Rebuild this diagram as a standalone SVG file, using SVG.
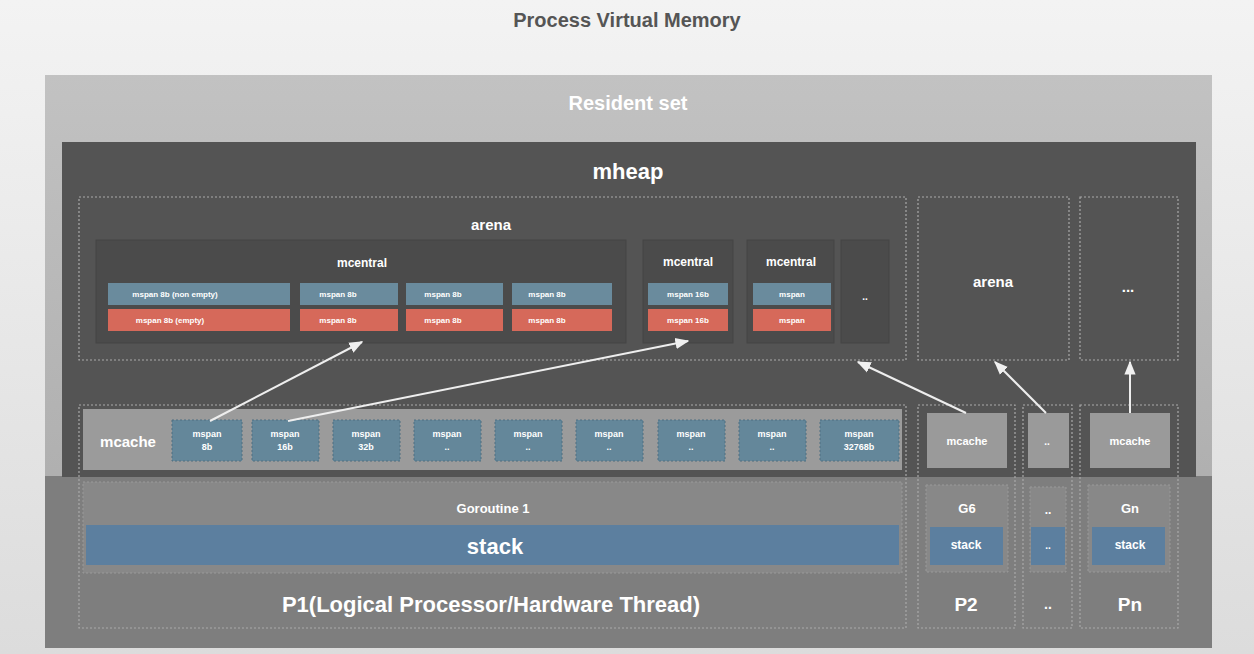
<svg xmlns="http://www.w3.org/2000/svg" width="1254" height="654" viewBox="0 0 1254 654">
<defs>
<linearGradient id="bg" x1="0" y1="0" x2="0" y2="1"><stop offset="0" stop-color="#f3f3f3"/><stop offset="1" stop-color="#dcdcdc"/></linearGradient>
<linearGradient id="rs" x1="0" y1="0" x2="0" y2="1"><stop offset="0" stop-color="#c2c2c2"/><stop offset="1" stop-color="#a8a8a8"/></linearGradient>
<marker id="ah" viewBox="0 0 10 10" refX="9" refY="5" markerWidth="7" markerHeight="7" orient="auto-start-reverse"><path d="M0,1 L10,5 L0,9 z" fill="#f0f0f0"/></marker>
</defs>
<style>
text{font-family:"Liberation Sans",Arial,sans-serif;font-weight:bold;fill:#fff;text-anchor:middle;dominant-baseline:central}
.dash{fill:none;stroke:#a9a9a9;stroke-width:1.2;stroke-dasharray:2 2}
.blue{fill:#6a8b9d}
.red{fill:#d6695a}
.cell{font-size:8px}
.ms{fill:#64879a;stroke:#4f6e80;stroke-width:1;stroke-dasharray:2 2}
.msT{font-size:9px}
.mc{fill:#9a9a9a}
.conn{stroke:#eeeeee;stroke-width:2;fill:none;marker-end:url(#ah)}
</style>
<rect width="1254" height="654" fill="url(#bg)"/>
<text x="627" y="20" font-size="20" style="fill:#555">Process Virtual Memory</text>

<g id="resident-set">
<rect x="45" y="75" width="1167" height="573" fill="url(#rs)"/>
<rect x="45" y="476" width="1167" height="172" fill="#7e7e7e"/>
<text x="628" y="103" font-size="20">Resident set</text>
</g>

<g id="mheap">
<rect x="62" y="142" width="1134" height="335" fill="#545454"/>
<text x="628" y="171" font-size="22">mheap</text>
</g>

<g id="arena1">
<rect class="dash" x="79" y="197" width="827" height="163"/>
<text x="491" y="224" font-size="15">arena</text>
</g>

<g id="mcentral1">
<rect x="96" y="240" width="530" height="103" fill="#4b4b4b" stroke="#444"/>
<text x="362" y="263" font-size="12">mcentral</text>
<rect class="blue" x="108" y="283" width="182" height="22"/>
<rect class="red" x="108" y="309" width="182" height="22"/>
<text class="cell" x="175" y="294">mspan 8b (non empty)</text>
<text class="cell" x="170" y="320">mspan 8b (empty)</text>
<rect class="blue" x="300" y="283" width="98" height="22"/>
<rect class="red" x="300" y="309" width="98" height="22"/>
<text class="cell" x="338" y="294">mspan 8b</text>
<text class="cell" x="338" y="320">mspan 8b</text>
<rect class="blue" x="406" y="283" width="97" height="22"/>
<rect class="red" x="406" y="309" width="97" height="22"/>
<text class="cell" x="443" y="294">mspan 8b</text>
<text class="cell" x="443" y="320">mspan 8b</text>
<rect class="blue" x="512" y="283" width="100" height="22"/>
<rect class="red" x="512" y="309" width="100" height="22"/>
<text class="cell" x="547" y="294">mspan 8b</text>
<text class="cell" x="547" y="320">mspan 8b</text>
</g>

<g id="mcentral2">
<rect x="643" y="240" width="90" height="103" fill="#4b4b4b" stroke="#444"/>
<text x="688" y="262" font-size="12">mcentral</text>
<rect class="blue" x="648" y="283" width="80" height="22"/>
<rect class="red" x="648" y="309" width="80" height="22"/>
<text class="cell" x="688" y="294" font-size="6">mspan 16b</text>
<text class="cell" x="688" y="320" font-size="6">mspan 16b</text>
</g>

<g id="mcentral3">
<rect x="747" y="240" width="87" height="103" fill="#4b4b4b" stroke="#444"/>
<text x="791" y="262" font-size="12">mcentral</text>
<rect class="blue" x="753" y="283" width="78" height="22"/>
<rect class="red" x="753" y="309" width="78" height="22"/>
<text class="cell" x="792" y="294" font-size="6">mspan</text>
<text class="cell" x="792" y="320" font-size="6">mspan</text>
</g>

<g id="mcentral-more">
<rect x="841" y="240" width="48" height="103" fill="#4b4b4b" stroke="#444"/>
<text x="865" y="296" font-size="10">..</text>
</g>

<g id="arena2">
<rect class="dash" x="918" y="197" width="151" height="163"/>
<text x="993" y="281" font-size="15">arena</text>
</g>

<g id="arena-more">
<rect class="dash" x="1080" y="197" width="98" height="163"/>
<text x="1128" y="286" font-size="15">...</text>
</g>

<g id="p1">
<rect class="dash" x="79" y="405" width="827" height="223"/>
<text x="491" y="604" font-size="22">P1(Logical Processor/Hardware Thread)</text>
</g>

<g id="mcache1">
<rect x="83" y="409" width="819" height="61" fill="#9b9b9b"/>
<text x="128" y="441" font-size="15">mcache</text>
<rect class="ms" x="172" y="420" width="70" height="41"/><text class="msT" x="207" y="434">mspan</text><text class="msT" x="207" y="447">8b</text>
<rect class="ms" x="252" y="420" width="67" height="41"/><text class="msT" x="285" y="434">mspan</text><text class="msT" x="285" y="447">16b</text>
<rect class="ms" x="333" y="420" width="67" height="41"/><text class="msT" x="366" y="434">mspan</text><text class="msT" x="366" y="447">32b</text>
<rect class="ms" x="414" y="420" width="67" height="41"/><text class="msT" x="447" y="434">mspan</text><text class="msT" x="447" y="447">..</text>
<rect class="ms" x="495" y="420" width="67" height="41"/><text class="msT" x="528" y="434">mspan</text><text class="msT" x="528" y="447">..</text>
<rect class="ms" x="576" y="420" width="67" height="41"/><text class="msT" x="609" y="434">mspan</text><text class="msT" x="609" y="447">..</text>
<rect class="ms" x="658" y="420" width="67" height="41"/><text class="msT" x="691" y="434">mspan</text><text class="msT" x="691" y="447">..</text>
<rect class="ms" x="739" y="420" width="67" height="41"/><text class="msT" x="772" y="434">mspan</text><text class="msT" x="772" y="447">..</text>
<rect class="ms" x="820" y="420" width="79" height="41"/><text class="msT" x="859" y="434">mspan</text><text class="msT" x="859" y="447">32768b</text>
</g>

<g id="goroutine1">
<rect x="83" y="482" width="819" height="91" fill="#888" stroke="#9a9a9a" stroke-dasharray="2 2"/>
<text x="493" y="508" font-size="13">Goroutine 1</text>
<rect x="86" y="525" width="813" height="40" fill="#5c7f9f"/>
<text x="495" y="546" font-size="22">stack</text>
</g>

<g id="p2">
<rect class="dash" x="918" y="405" width="97" height="223"/>
<rect class="mc" x="927" y="413" width="80" height="55"/>
<text x="967" y="441" font-size="11">mcache</text>
<rect x="926" y="485" width="82" height="87" fill="#888" stroke="#9a9a9a" stroke-dasharray="2 2"/>
<text x="967" y="508" font-size="13">G6</text>
<rect x="930" y="527" width="73" height="38" fill="#5c7f9f"/>
<text x="966" y="545" font-size="12">stack</text>
<text x="966" y="604" font-size="19">P2</text>
</g>

<g id="p-more">
<rect class="dash" x="1023" y="405" width="49" height="223"/>
<rect class="mc" x="1028" y="413" width="41" height="55"/>
<text x="1047" y="441" font-size="10">..</text>
<rect x="1030" y="487" width="36" height="85" fill="#888" stroke="#9a9a9a" stroke-dasharray="2 2"/>
<text x="1048" y="510" font-size="12">..</text>
<rect x="1031" y="527" width="34" height="38" fill="#5c7f9f"/>
<text x="1048" y="545" font-size="10">..</text>
<text x="1048" y="604" font-size="14">..</text>
</g>

<g id="pn">
<rect class="dash" x="1080" y="405" width="98" height="223"/>
<rect class="mc" x="1090" y="413" width="80" height="55"/>
<text x="1130" y="441" font-size="11">mcache</text>
<rect x="1088" y="485" width="82" height="87" fill="#888" stroke="#9a9a9a" stroke-dasharray="2 2"/>
<text x="1130" y="508" font-size="13">Gn</text>
<rect x="1092" y="527" width="73" height="38" fill="#5c7f9f"/>
<text x="1130" y="545" font-size="12">stack</text>
<text x="1130" y="604" font-size="19">Pn</text>
</g>

<g id="connectors">
<line class="conn" x1="210" y1="421" x2="362" y2="342"/>
<line class="conn" x1="288" y1="421" x2="688" y2="341"/>
<line class="conn" x1="966" y1="413" x2="858" y2="362"/>
<line class="conn" x1="1046" y1="413" x2="995" y2="362"/>
<line class="conn" x1="1130" y1="413" x2="1130" y2="362"/>
</g>
</svg>
